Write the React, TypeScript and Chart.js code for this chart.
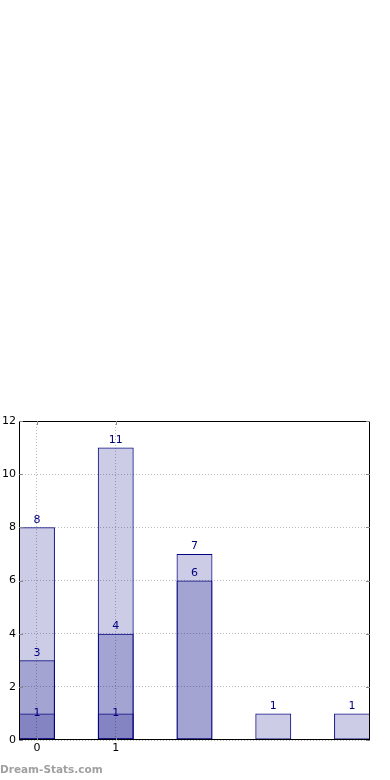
import React, { useEffect, useRef } from "react";
import { Chart, registerables } from "chart.js";

Chart.register(...registerables);

const xPositions = [0, 1, 2, 3, 4];
const outerValues = [8, 11, 7, 1, 1];
const middleValues = [3, 4, 6, null, null];
const innerValues = [1, 1, null, null, null];
const xTickValues = [0, 1];
const xTickLabels = ["0", "1"];
const yTicks = [0, 2, 4, 6, 8, 10, 12];

const FILL = "rgba(0,0,128,0.2)";
const EDGE = "#000080";
const FONT = "'DejaVu Sans', sans-serif";

function toPoints(vals: (number | null)[]) {
  return xPositions.map((x, i) => ({ x, y: vals[i] }));
}

const labelOffsets = [2, 2, -5];

const labelPlugin = {
  id: "barLabels",
  afterDatasetsDraw(chart: any) {
    const ctx = chart.ctx;
    ctx.save();
    ctx.font = `11px ${FONT}`;
    ctx.fillStyle = EDGE;
    ctx.textAlign = "center";
    ctx.textBaseline = "bottom";
    chart.data.datasets.forEach((ds: any, di: number) => {
      const meta = chart.getDatasetMeta(di);
      meta.data.forEach((el: any, i: number) => {
        const v = ds.data[i].y;
        if (v == null) return;
        ctx.fillText(String(v), el.x, el.y - labelOffsets[di]);
      });
    });
    ctx.restore();
  },
};

const framePlugin = {
  id: "frame",
  afterDraw(chart: any) {
    const { ctx, chartArea } = chart;
    const { left, right, top, bottom } = chartArea;
    ctx.save();
    ctx.strokeStyle = "#000";
    ctx.lineWidth = 1;
    ctx.strokeRect(Math.round(left) + 0.5, Math.round(top) + 0.5, Math.round(right - left) - 1, Math.round(bottom - top) - 1);
    ctx.strokeStyle = "#888";
    const ys = chart.scales.y;
    yTicks.forEach((t) => {
      const py = Math.round(ys.getPixelForValue(t)) + 0.5;
      ctx.beginPath();
      ctx.moveTo(left, py);
      ctx.lineTo(left + 4, py);
      ctx.moveTo(right, py);
      ctx.lineTo(right - 4, py);
      ctx.stroke();
    });
    const xs = chart.scales.x;
    xTickValues.forEach((t) => {
      const px = Math.round(xs.getPixelForValue(t)) + 0.5;
      ctx.beginPath();
      ctx.moveTo(px, bottom);
      ctx.lineTo(px, bottom - 4);
      ctx.moveTo(px, top);
      ctx.lineTo(px, top + 4);
      ctx.stroke();
    });
    ctx.font = `bold 10.5px ${FONT}`;
    ctx.fillStyle = "#a0a0a0";
    ctx.textAlign = "left";
    ctx.textBaseline = "middle";
    ctx.fillText("Dream-Stats.com", 0, 770);
    ctx.restore();
  },
};

export default function App() {
  const ref = useRef<HTMLCanvasElement>(null);
  useEffect(() => {
    document.body.style.margin = "0";
    const mk = (vals: (number | null)[]) => ({
      data: toPoints(vals),
      backgroundColor: FILL,
      borderColor: EDGE,
      borderWidth: 1,
      borderSkipped: false,
      grouped: false,
      categoryPercentage: 1,
      barPercentage: 0.456,
    });
    const chart = new Chart(ref.current!, {
      type: "bar",
      data: {
        datasets: [mk(outerValues), mk(middleValues), mk(innerValues)] as any,
      },
      options: {
        animation: false,
        responsive: false,
        maintainAspectRatio: false,
        layout: { padding: { top: 421, right: 20, left: 0, bottom: 0 } },
        plugins: { legend: { display: false }, tooltip: { enabled: false } },
        scales: {
          x: {
            type: "linear",
            min: -0.228,
            max: 4.228,
            offset: false,
            afterBuildTicks: (s: any) => {
              s.ticks = xTickValues.map((v) => ({ value: v }));
            },
            afterFit: (s: any) => {
              s.height = 40;
            },
            ticks: {
              callback: (v: any) => {
                const i = xTickValues.indexOf(Number(v));
                return i >= 0 ? xTickLabels[i] : "";
              },
              color: "#000",
              font: { family: FONT, size: 11 },
              padding: 2,
              maxRotation: 0,
            },
            grid: { color: "#bbbbbb", offset: false, drawTicks: false } as any,
            border: { display: false, dash: [1, 2] },
          },
          y: {
            min: 0,
            max: 12,
            afterBuildTicks: (s: any) => {
              s.ticks = yTicks.map((v) => ({ value: v }));
            },
            afterFit: (s: any) => {
              s.width = 19;
            },
            ticks: {
              color: "#000",
              font: { family: FONT, size: 11 },
              padding: 3,
            },
            grid: { color: "#bbbbbb", drawTicks: false } as any,
            border: { display: false, dash: [1, 2] },
          },
        },
      },
      plugins: [labelPlugin, framePlugin],
    } as any);
    return () => chart.destroy();
  }, []);
  return (
    <div style={{ position: "absolute", left: 0, top: 0, width: 390, height: 780 }}>
      <canvas ref={ref} width={390} height={780} style={{ width: 390, height: 780 }} />
    </div>
  );
}
